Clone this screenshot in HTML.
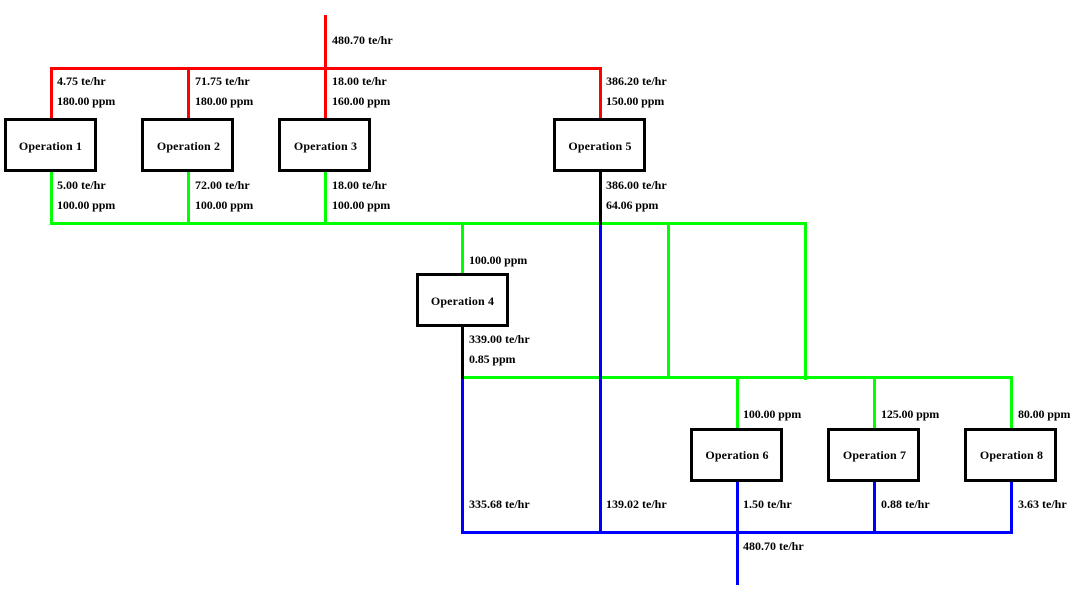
<!DOCTYPE html>
<html>
<head>
<meta charset="utf-8">
<style>
html,body{margin:0;padding:0;background:#fff;width:1086px;height:592px;overflow:hidden}
svg{display:block}
text{font-family:"Liberation Serif",serif;font-weight:bold;font-size:12px;fill:#000}
.c{text-anchor:middle;letter-spacing:.14px}
.p{letter-spacing:-.12px}
</style>
</head>
<body>
<svg width="1086" height="592" viewBox="0 0 1086 592" xmlns="http://www.w3.org/2000/svg">
<g shape-rendering="crispEdges">
<!-- green -->
<g fill="#00ff00">
<rect x="50" y="222" width="757" height="3"/>
<rect x="462" y="376" width="551" height="3"/>
<rect x="50" y="172" width="3" height="53"/>
<rect x="187" y="172" width="3" height="53"/>
<rect x="324" y="172" width="3" height="53"/>
<rect x="461" y="222" width="3" height="52"/>
<rect x="667" y="222" width="3" height="157"/>
<rect x="804" y="222" width="3" height="158"/>
<rect x="736" y="376" width="3" height="53"/>
<rect x="873" y="376" width="3" height="53"/>
<rect x="1010" y="376" width="3" height="53"/>
</g>
<!-- blue -->
<g fill="#0000ff">
<rect x="461" y="531" width="552" height="3"/>
<rect x="461" y="379" width="3" height="155"/>
<rect x="599" y="225" width="3" height="309"/>
<rect x="736" y="481" width="3" height="104"/>
<rect x="873" y="481" width="3" height="53"/>
<rect x="1010" y="481" width="3" height="53"/>
</g>
<!-- red -->
<g fill="#ff0000">
<rect x="50" y="67" width="552" height="3"/>
<rect x="324" y="15" width="3" height="107"/>
<rect x="50" y="67" width="3" height="55"/>
<rect x="187" y="67" width="3" height="55"/>
<rect x="599" y="67" width="3" height="55"/>
</g>
<!-- black stubs -->
<g fill="#000">
<rect x="599" y="170" width="3" height="55"/>
<rect x="461" y="325" width="3" height="54"/>
</g>
<!-- boxes -->
<g fill="#fff" stroke="#000" stroke-width="3">
<rect x="5.5" y="119.5" width="90" height="51"/>
<rect x="142.5" y="119.5" width="90" height="51"/>
<rect x="279.5" y="119.5" width="90" height="51"/>
<rect x="554.5" y="119.5" width="90" height="51"/>
<rect x="417.5" y="274.5" width="90" height="51"/>
<rect x="691.5" y="429.5" width="90" height="51"/>
<rect x="828.5" y="429.5" width="90" height="51"/>
<rect x="965.5" y="429.5" width="90" height="51"/>
</g>
</g>
<text class="c" x="50.5" y="150">Operation 1</text>
<text class="c" x="188.5" y="150">Operation 2</text>
<text class="c" x="325.5" y="150">Operation 3</text>
<text class="c" x="600" y="150">Operation 5</text>
<text class="c" x="462.5" y="305">Operation 4</text>
<text class="c" x="737" y="459">Operation 6</text>
<text class="c" x="874.5" y="459">Operation 7</text>
<text class="c" x="1011.5" y="459">Operation 8</text>

<text x="332" y="44">480.70 te/hr</text>
<text x="57" y="85">4.75 te/hr</text>
<text class="p" x="57" y="105">180.00 ppm</text>
<text x="195" y="85">71.75 te/hr</text>
<text class="p" x="195" y="105">180.00 ppm</text>
<text x="332" y="85">18.00 te/hr</text>
<text class="p" x="332" y="105">160.00 ppm</text>
<text x="606" y="85">386.20 te/hr</text>
<text class="p" x="606" y="105">150.00 ppm</text>
<text x="57" y="189">5.00 te/hr</text>
<text class="p" x="57" y="209">100.00 ppm</text>
<text x="195" y="189">72.00 te/hr</text>
<text class="p" x="195" y="209">100.00 ppm</text>
<text x="332" y="189">18.00 te/hr</text>
<text class="p" x="332" y="209">100.00 ppm</text>
<text x="606" y="189">386.00 te/hr</text>
<text class="p" x="606" y="209">64.06 ppm</text>
<text class="p" x="469" y="264">100.00 ppm</text>
<text x="469" y="343">339.00 te/hr</text>
<text class="p" x="469" y="363">0.85 ppm</text>
<text class="p" x="743" y="418">100.00 ppm</text>
<text class="p" x="881" y="418">125.00 ppm</text>
<text class="p" x="1018" y="418">80.00 ppm</text>
<text x="469" y="508">335.68 te/hr</text>
<text x="606" y="508">139.02 te/hr</text>
<text x="743" y="508">1.50 te/hr</text>
<text x="881" y="508">0.88 te/hr</text>
<text x="1018" y="508">3.63 te/hr</text>
<text x="743" y="550">480.70 te/hr</text>
</svg>
</body>
</html>
